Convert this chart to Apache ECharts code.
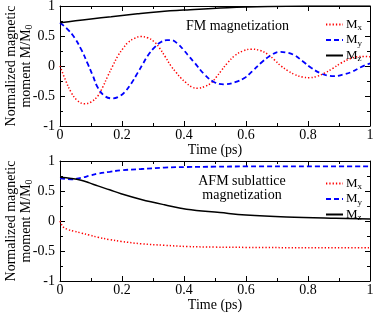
<!DOCTYPE html>
<html>
<head>
<meta charset="utf-8">
<script src="https://cdn.jsdelivr.net/npm/echarts@6/dist/echarts.min.js"></script>
<style>html,body{margin:0;padding:0;background:#fff;}#c{width:374px;height:313px;}</style>
</head>
<body>
<div id="c"></div>
<script>
// ---- Data (time in ps, normalized magnetization) ----
var xTicks = [0, 0.2, 0.4, 0.6, 0.8, 1];
var yTicks = [-1, -0.5, 0, 0.5, 1];

var fmMx = [[0,0],[0.018,-0.24],[0.036,-0.44],[0.055,-0.57],[0.079,-0.63],[0.10,-0.6],[0.122,-0.50],[0.138,-0.35],[0.154,-0.17],[0.17,0],[0.187,0.17],[0.203,0.29],[0.219,0.39],[0.24,0.46],[0.26,0.49],[0.283,0.47],[0.305,0.40],[0.321,0.30],[0.34,0.15],[0.358,0.0],[0.375,-0.11],[0.39,-0.2],[0.407,-0.28],[0.425,-0.35],[0.445,-0.37],[0.468,-0.34],[0.488,-0.28],[0.505,-0.18],[0.52,-0.08],[0.54,0.05],[0.563,0.17],[0.59,0.25],[0.617,0.28],[0.645,0.26],[0.67,0.195],[0.692,0.1],[0.713,0],[0.735,-0.08],[0.756,-0.14],[0.783,-0.185],[0.805,-0.195],[0.83,-0.17],[0.853,-0.12],[0.88,-0.04],[0.907,0.05],[0.935,0.12],[0.96,0.155],[0.98,0.16],[1.0,0.155]];
var fmMy = [[0,0.72],[0.023,0.62],[0.047,0.47],[0.07,0.26],[0.09,0.03],[0.105,-0.15],[0.122,-0.36],[0.144,-0.50],[0.17,-0.54],[0.19,-0.51],[0.208,-0.44],[0.23,-0.29],[0.251,-0.11],[0.268,0.04],[0.283,0.17],[0.305,0.31],[0.326,0.40],[0.345,0.43],[0.359,0.43],[0.38,0.37],[0.40,0.26],[0.418,0.15],[0.434,0.055],[0.466,-0.14],[0.498,-0.27],[0.531,-0.305],[0.565,-0.27],[0.595,-0.2],[0.62,-0.09],[0.649,0.055],[0.681,0.18],[0.708,0.235],[0.735,0.22],[0.756,0.18],[0.783,0.08],[0.81,-0.03],[0.84,-0.12],[0.865,-0.16],[0.885,-0.17],[0.915,-0.14],[0.94,-0.10],[0.97,-0.02],[1.0,0.045]];
var fmMz = [[0,0.72],[0.05,0.755],[0.1,0.785],[0.165,0.82],[0.25,0.87],[0.32,0.905],[0.41,0.935],[0.54,0.97],[0.67,0.99],[0.8,0.998],[1.0,1.0]];

var afmMx = [[0,0],[0.005,-0.06],[0.01,-0.1],[0.025,-0.14],[0.045,-0.17],[0.068,-0.2],[0.095,-0.235],[0.122,-0.27],[0.16,-0.31],[0.197,-0.34],[0.262,-0.38],[0.337,-0.405],[0.41,-0.425],[0.5,-0.435],[0.6,-0.44],[0.8,-0.445],[1.0,-0.445]];
var afmMy = [[0,0.71],[0.036,0.695],[0.068,0.72],[0.095,0.755],[0.122,0.79],[0.16,0.82],[0.197,0.845],[0.262,0.867],[0.337,0.89],[0.41,0.9],[0.5,0.905],[0.6,0.91],[0.8,0.912],[1.0,0.912]];
var afmMz = [[0,0.73],[0.036,0.71],[0.068,0.68],[0.095,0.635],[0.122,0.585],[0.16,0.52],[0.197,0.455],[0.262,0.36],[0.337,0.27],[0.408,0.195],[0.516,0.14],[0.6,0.1],[0.73,0.067],[0.89,0.045],[1.0,0.035]];

var FONT = 'Liberation Serif';
var chart = echarts.init(document.getElementById('c'), null, {renderer: 'canvas'});

function xAx(grid, bottom) {
  return {
    gridIndex: grid, type: 'value', min: 0, max: 1, interval: 0.2,
    position: bottom ? 'bottom' : 'top',
    name: bottom ? 'Time (ps)' : '', nameLocation: 'middle', nameGap: 17,
    nameMoveOverlap: false,
    nameTextStyle: {fontFamily: FONT, fontSize: 14, color: '#000'},
    axisLine: {show: true, onZero: false, lineStyle: {color: '#000', width: 1}},
    axisTick: {show: true, inside: true, length: 5, lineStyle: {color: '#000'}},
    minorTick: {show: true, splitNumber: 2, length: 3, lineStyle: {color: '#000'}},
    axisLabel: {show: bottom, fontFamily: FONT, fontSize: 14, color: '#000', margin: 2,
      customValues: xTicks},
    splitLine: {show: false}
  };
}
function yAx(grid, left) {
  return {
    gridIndex: grid, type: 'value', min: -1, max: 1, interval: 0.5,
    position: left ? 'left' : 'right',
    name: left ? 'Normalized magnetic\nmoment {a|M/M}{b|0}' : '',
    nameLocation: 'middle', nameRotate: 90, nameGap: 26, nameMoveOverlap: false,
    nameTextStyle: {fontFamily: FONT, fontSize: 14, color: '#000', lineHeight: 15,
      rich: {a: {fontFamily: FONT, fontSize: 14, color: '#000'},
             b: {fontFamily: FONT, fontSize: 10, color: '#000', padding: [6, 0, 0, 0]}}},
    axisLine: {show: true, onZero: false, lineStyle: {color: '#000', width: 1}},
    axisTick: {show: true, inside: true, length: 5, lineStyle: {color: '#000'}},
    minorTick: {show: true, splitNumber: 2, length: 3, lineStyle: {color: '#000'}},
    axisLabel: {show: left, fontFamily: FONT, fontSize: 14, color: '#000', margin: 5,
      customValues: yTicks},
    splitLine: {show: false}
  };
}
function ser(name, data, xi, yi, color, type, width) {
  return {
    name: name, type: 'line', data: data, xAxisIndex: xi, yAxisIndex: yi,
    smooth: 0.4, symbol: 'none', animation: false,
    lineStyle: {color: color, type: type, width: width}, itemStyle: {color: color}
  };
}
var richLegend = {
  m: {fontFamily: FONT, fontSize: 13, color: '#000'},
  s: {fontFamily: FONT, fontSize: 9, color: '#000', padding: [7, 0, 0, 0]}
};
function leg(names, top) {
  return {
    data: names, orient: 'vertical', left: 320, top: top, itemGap: 1,
    itemWidth: 17, itemHeight: 13, selectedMode: false,
    itemStyle: {opacity: 0},
    formatter: function (n) { return '{m|M}{s|' + n.charAt(1) + '}'; },
    textStyle: {rich: richLegend, padding: [0, 0, 0, -2]}
  };
}

chart.setOption({
  animation: false,
  grid: [
    {left: 60, top: 6, width: 310, height: 120, containLabel: false, outerBoundsMode: 'none'},
    {left: 60, top: 161, width: 310, height: 120, containLabel: false, outerBoundsMode: 'none'}
  ],
  title: [
    {text: 'FM magnetization', left: 181, top: 14,
     textStyle: {fontFamily: FONT, fontSize: 14, fontWeight: 'normal', color: '#000'}},
    {text: 'AFM sublattice\nmagnetization', left: 237, top: 169, textAlign: 'center',
     textStyle: {fontFamily: FONT, fontSize: 14, fontWeight: 'normal', color: '#000', lineHeight: 14}}
  ],
  legend: [leg(['Mx1', 'My1', 'Mz1'], 13), leg(['Mx2', 'My2', 'Mz2'], 172)],
  xAxis: [xAx(0, true), xAx(0, false), xAx(1, true), xAx(1, false)],
  yAxis: [yAx(0, true), yAx(0, false), yAx(1, true), yAx(1, false)],
  series: [
    ser('Mx1', fmMx, 0, 0, '#ff0000', [1.3, 2], 1.5),
    ser('My1', fmMy, 0, 0, '#0000ff', [5, 3], 1.8),
    ser('Mz1', fmMz, 0, 0, '#000000', 'solid', 1.5),
    ser('Mx2', afmMx, 2, 2, '#ff0000', [1.3, 2], 1.5),
    ser('My2', afmMy, 2, 2, '#0000ff', [5, 3], 1.8),
    ser('Mz2', afmMz, 2, 2, '#000000', 'solid', 1.5)
  ]
});
</script>
</body>
</html>
